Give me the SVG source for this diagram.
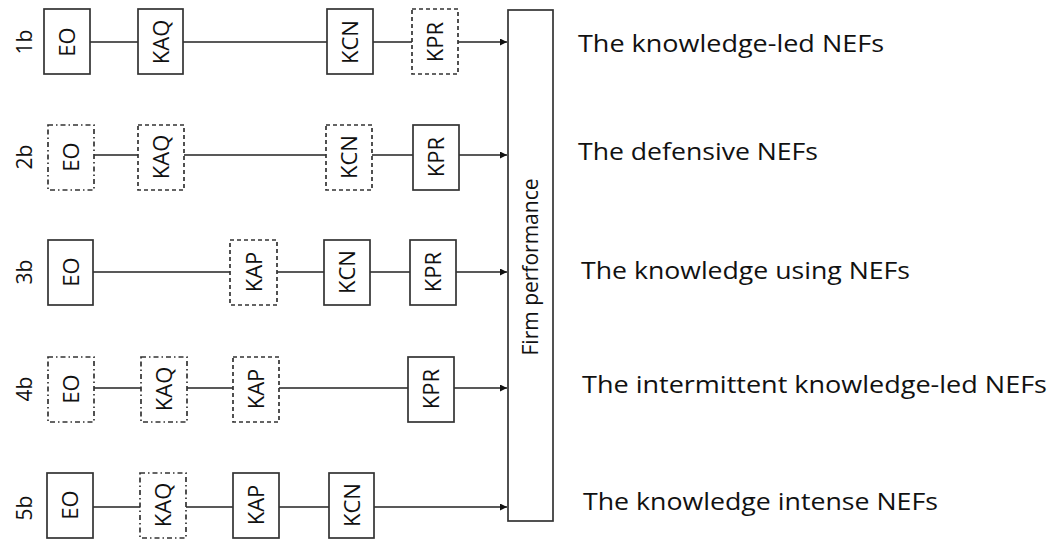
<svg xmlns="http://www.w3.org/2000/svg" width="1053" height="540" viewBox="0 0 1053 540">
<style>
  .box{fill:#fff;stroke:#333;stroke-width:1.7}
  .dash{stroke-dasharray:4 3}
  .dd{stroke-dasharray:5 3 1.5 3}
  .bl{font-family:"Open Sans","Liberation Sans",sans-serif;font-size:22px;fill:#111;text-anchor:middle}
  .rl{font-family:"Open Sans","Liberation Sans",sans-serif;font-size:21px;fill:#111;text-anchor:middle}
  .lab{font-family:"Open Sans","Liberation Sans",sans-serif;font-size:24px;fill:#111}
  .ln{stroke:#222;stroke-width:1.7;fill:none}
</style>
<defs>
  <marker id="ah" viewBox="0 0 10 10" refX="10" refY="5" markerWidth="8" markerHeight="7" markerUnits="userSpaceOnUse" orient="auto">
    <path d="M0,0 L10,5 L0,10 z" fill="#111"/>
  </marker>
</defs>
<rect width="1053" height="540" fill="#fff"/>

<g id="connectors">
  <line class="ln" x1="90" y1="42" x2="138" y2="42"/>
  <line class="ln" x1="183" y1="42" x2="327" y2="42"/>
  <line class="ln" x1="373" y1="42" x2="412" y2="42"/>
  <line class="ln" x1="458" y1="42" x2="507" y2="42" marker-end="url(#ah)"/>
  <line class="ln" x1="94" y1="155" x2="138" y2="155"/>
  <line class="ln" x1="184" y1="155" x2="326" y2="155"/>
  <line class="ln" x1="372" y1="155" x2="413" y2="155"/>
  <line class="ln" x1="459" y1="155" x2="507" y2="155" marker-end="url(#ah)"/>
  <line class="ln" x1="93" y1="272" x2="230" y2="272"/>
  <line class="ln" x1="277" y1="272" x2="324" y2="272"/>
  <line class="ln" x1="370" y1="272" x2="410" y2="272"/>
  <line class="ln" x1="456" y1="272" x2="507" y2="272" marker-end="url(#ah)"/>
  <line class="ln" x1="94" y1="388" x2="141" y2="388"/>
  <line class="ln" x1="187" y1="388" x2="233" y2="388"/>
  <line class="ln" x1="279" y1="388" x2="408" y2="388"/>
  <line class="ln" x1="454" y1="388" x2="507" y2="388" marker-end="url(#ah)"/>
  <line class="ln" x1="93" y1="507" x2="140" y2="507"/>
  <line class="ln" x1="186" y1="507" x2="233" y2="507"/>
  <line class="ln" x1="279" y1="507" x2="329" y2="507"/>
  <line class="ln" x1="374" y1="507" x2="507" y2="507" marker-end="url(#ah)"/>
</g>

<g id="firm-performance">
  <rect class="box" x="508" y="10" width="45" height="511"/>
  <text class="rl" transform="translate(531,267) rotate(-90)" x="0" y="7">Firm performance</text>
</g>

<g id="row1">
  <text class="rl" transform="translate(25,42) rotate(-90)" x="0" y="7">1b</text>
  <g id="r1-EO"><rect class="box" x="44" y="9" width="46" height="65"/><text class="bl" transform="translate(67,42) rotate(-90)" y="8">EO</text></g>
  <g id="r1-KAQ"><rect class="box" x="138" y="9" width="45" height="65"/><text class="bl" transform="translate(160.5,42) rotate(-90)" y="8">KAQ</text></g>
  <g id="r1-KCN"><rect class="box" x="327" y="9" width="46" height="65"/><text class="bl" transform="translate(350,42) rotate(-90)" y="8">KCN</text></g>
  <g id="r1-KPR"><rect class="box dash" x="412" y="9" width="46" height="65"/><text class="bl" transform="translate(435,42) rotate(-90)" y="8">KPR</text></g>
  <text class="lab" x="578" y="52" textLength="306" lengthAdjust="spacingAndGlyphs">The knowledge-led NEFs</text>
</g>

<g id="row2">
  <text class="rl" transform="translate(25,157) rotate(-90)" x="0" y="7">2b</text>
  <g id="r2-EO"><rect class="box dd" x="48" y="125" width="46" height="65"/><text class="bl" transform="translate(71,157) rotate(-90)" y="8">EO</text></g>
  <g id="r2-KAQ"><rect class="box dash" x="138" y="125" width="46" height="65"/><text class="bl" transform="translate(161,157) rotate(-90)" y="8">KAQ</text></g>
  <g id="r2-KCN"><rect class="box dash" x="326" y="125" width="46" height="65"/><text class="bl" transform="translate(349,157) rotate(-90)" y="8">KCN</text></g>
  <g id="r2-KPR"><rect class="box" x="413" y="125" width="46" height="65"/><text class="bl" transform="translate(436,157) rotate(-90)" y="8">KPR</text></g>
  <text class="lab" x="578" y="160" textLength="240" lengthAdjust="spacingAndGlyphs">The defensive NEFs</text>
</g>

<g id="row3">
  <text class="rl" transform="translate(25,272) rotate(-90)" x="0" y="7">3b</text>
  <g id="r3-EO"><rect class="box" x="48" y="240" width="45" height="65"/><text class="bl" transform="translate(70.5,272) rotate(-90)" y="8">EO</text></g>
  <g id="r3-KAP"><rect class="box dash" x="230" y="240" width="47" height="65"/><text class="bl" transform="translate(253.5,272) rotate(-90)" y="8">KAP</text></g>
  <g id="r3-KCN"><rect class="box" x="324" y="240" width="46" height="65"/><text class="bl" transform="translate(347,272) rotate(-90)" y="8">KCN</text></g>
  <g id="r3-KPR"><rect class="box" x="410" y="240" width="46" height="65"/><text class="bl" transform="translate(433,272) rotate(-90)" y="8">KPR</text></g>
  <text class="lab" x="581" y="279" textLength="329" lengthAdjust="spacingAndGlyphs">The knowledge using NEFs</text>
</g>

<g id="row4">
  <text class="rl" transform="translate(25,389) rotate(-90)" x="0" y="7">4b</text>
  <g id="r4-EO"><rect class="box dd" x="48" y="357" width="46" height="65"/><text class="bl" transform="translate(71,389) rotate(-90)" y="8">EO</text></g>
  <g id="r4-KAQ"><rect class="box dd" x="141" y="357" width="46" height="65"/><text class="bl" transform="translate(164,389) rotate(-90)" y="8">KAQ</text></g>
  <g id="r4-KAP"><rect class="box dash" x="233" y="357" width="46" height="65"/><text class="bl" transform="translate(256,389) rotate(-90)" y="8">KAP</text></g>
  <g id="r4-KPR"><rect class="box" x="408" y="357" width="46" height="65"/><text class="bl" transform="translate(431,389) rotate(-90)" y="8">KPR</text></g>
  <text class="lab" x="582" y="393" textLength="465" lengthAdjust="spacingAndGlyphs">The intermittent knowledge-led NEFs</text>
</g>

<g id="row5">
  <text class="rl" transform="translate(25,508) rotate(-90)" x="0" y="7">5b</text>
  <g id="r5-EO"><rect class="box" x="47" y="473" width="46" height="65"/><text class="bl" transform="translate(70,505) rotate(-90)" y="8">EO</text></g>
  <g id="r5-KAQ"><rect class="box dd" x="140" y="473" width="46" height="65"/><text class="bl" transform="translate(163,505) rotate(-90)" y="8">KAQ</text></g>
  <g id="r5-KAP"><rect class="box" x="233" y="473" width="46" height="65"/><text class="bl" transform="translate(256,505) rotate(-90)" y="8">KAP</text></g>
  <g id="r5-KCN"><rect class="box" x="329" y="473" width="45" height="65"/><text class="bl" transform="translate(351.5,505) rotate(-90)" y="8">KCN</text></g>
  <text class="lab" x="583" y="510" textLength="355" lengthAdjust="spacingAndGlyphs">The knowledge intense NEFs</text>
</g>
</svg>
